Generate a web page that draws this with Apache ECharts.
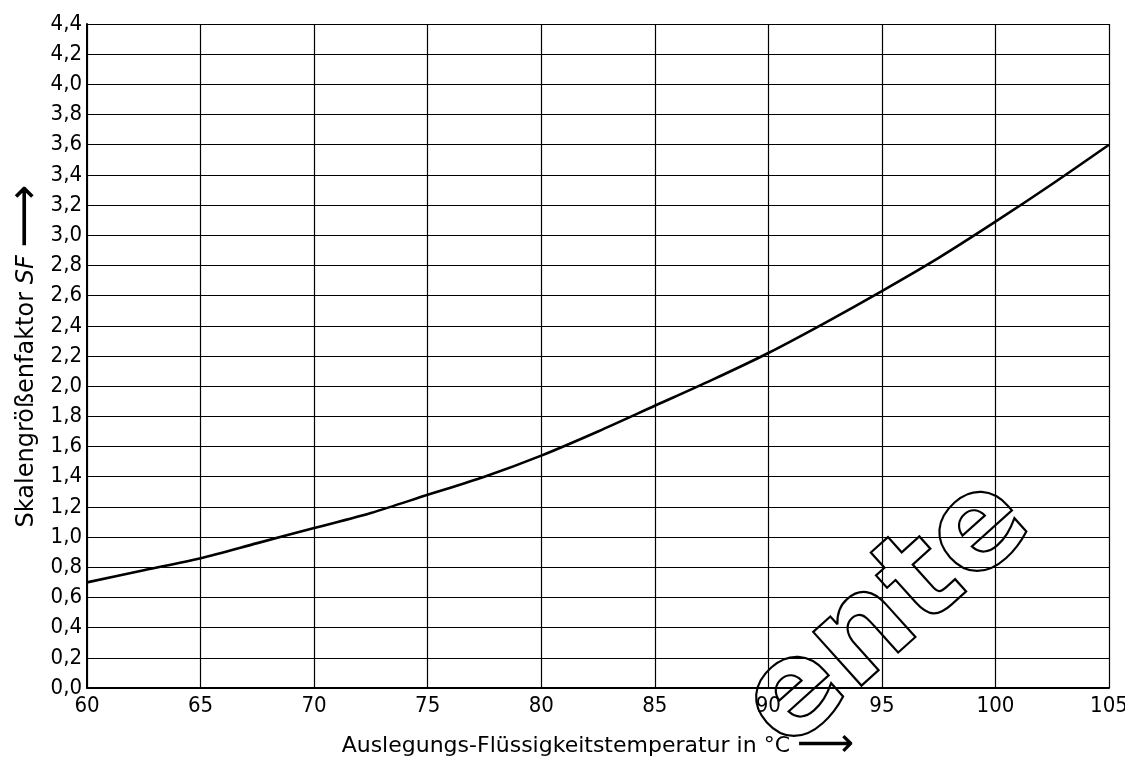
<!DOCTYPE html>
<html>
<head>
<meta charset="utf-8">
<title>Skalengrößenfaktor SF</title>
<script src="https://cdn.jsdelivr.net/npm/echarts@6/dist/echarts.min.js"></script>
<style>
  html, body { margin: 0; padding: 0; background: #fff; }
  #chart { width: 1125px; height: 757px; }
</style>
</head>
<body>
<div id="chart"></div>
<script>
// Werte
const temperatures = [60, 62.5, 65, 67.5, 70, 72.5, 75, 77.5, 80, 82.5, 85, 87.5, 90, 92.5, 95, 97.5, 100, 102.5, 105]
const sfValues = [0.70, 0.78, 0.86, 0.96, 1.06, 1.16, 1.28, 1.40, 1.54, 1.70, 1.87, 2.04, 2.22, 2.42, 2.63, 2.85, 3.09, 3.34, 3.60]

const font = '"DejaVu Sans Condensed", "DejaVu Sans", sans-serif'
const nameFont = '"DejaVu Sans", sans-serif'

const xNameRich = {
  a: { color: '#000', fontSize: 22, fontFamily: nameFont, lineHeight: 24 },
  b: { color: '#000', fontSize: 40, fontFamily: nameFont, lineHeight: 24 }
}
const yNameRich = {
  a: { color: '#000', fontSize: 24, fontFamily: nameFont, lineHeight: 26 },
  i: { color: '#000', fontSize: 24, fontFamily: nameFont, fontStyle: 'italic', lineHeight: 26 },
  b: { color: '#000', fontSize: 44, fontFamily: nameFont, lineHeight: 26 }
}

const myChart = echarts.init(document.getElementById('chart'))

const option = {
  backgroundColor: '#fff',
  animation: false,
  grid: { left: 87, right: 16, top: 24, bottom: 69, outerBoundsMode: 'none' },
  xAxis: {
    type: 'value',
    min: 60,
    max: 105,
    interval: 5,
    name: '{a|Auslegungs-Flüssigkeitstemperatur in °C }{b|⟶}',
    nameLocation: 'middle',
    nameGap: 46,
    nameMoveOverlap: false,
    nameTextStyle: { rich: xNameRich },
    axisLine: { show: true, lineStyle: { color: '#000', width: 2 } },
    axisTick: { show: false },
    axisLabel: { color: '#000', fontSize: 22, fontFamily: font, margin: 7 },
    splitLine: { show: true, lineStyle: { color: '#000', width: 1.2 } }
  },
  yAxis: {
    type: 'value',
    min: 0,
    max: 4.4,
    interval: 0.2,
    name: '{a|Skalengrößenfaktor }{i|SF}{a| }{b|⟶}',
    nameLocation: 'middle',
    nameGap: 47,
    nameMoveOverlap: false,
    nameTextStyle: { rich: yNameRich },
    axisLine: { show: true, lineStyle: { color: '#000', width: 2 } },
    axisTick: { show: false },
    axisLabel: {
      color: '#000',
      fontSize: 22,
      fontFamily: font,
      margin: 5,
      formatter: v => v.toFixed(1).replace('.', ',')
    },
    splitLine: { show: true, lineStyle: { color: '#000', width: 1.2 } }
  },
  graphic: [{
    type: 'text',
    left: 718,
    top: 452,
    rotation: Math.PI * 42 / 180,
    silent: true,
    style: {
      text: 'ente',
      font: 'bold 132px "DejaVu Sans", sans-serif',
      fill: 'transparent',
      stroke: '#000',
      lineWidth: 2.2
    }
  }],
  series: [{
    type: 'line',
    data: temperatures.map((t, i) => [t, sfValues[i]]),
    smooth: 0.3,
    symbol: 'none',
    lineStyle: { color: '#000', width: 2.6 }
  }]
}

myChart.setOption(option)
</script>
</body>
</html>
